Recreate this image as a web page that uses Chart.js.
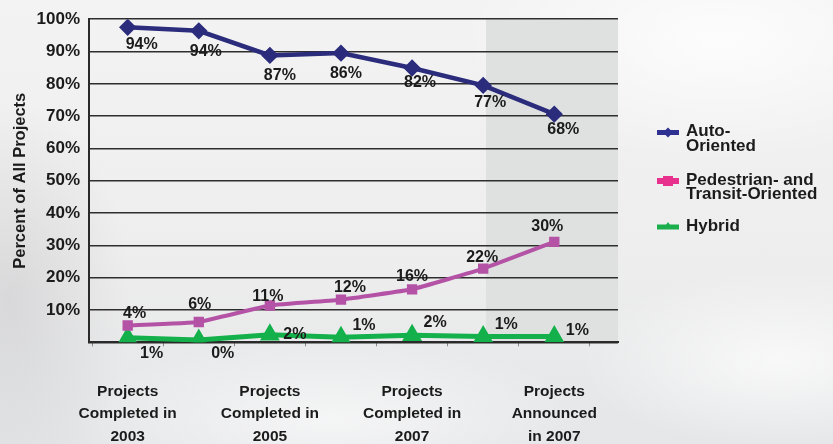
<!DOCTYPE html>
<html>
<head>
<meta charset="utf-8">
<script src="https://cdn.jsdelivr.net/npm/chart.js@4.4.1/dist/chart.umd.min.js"></script>
<style>
  html, body { margin: 0; padding: 0; }
  #wrap {
    position: relative;
    width: 833px;
    height: 444px;
    overflow: hidden;
    background:
      radial-gradient(ellipse 120px 200px at 10px 300px, rgba(200,200,202,0.55), rgba(200,200,202,0) 100%),
      radial-gradient(ellipse 260px 120px at 720px 40px, rgba(255,255,255,0.8), rgba(255,255,255,0) 100%),
      radial-gradient(ellipse 200px 90px at 780px 360px, rgba(255,255,255,0.7), rgba(255,255,255,0) 100%),
      radial-gradient(ellipse 260px 80px at 330px 420px, rgba(255,255,255,0.6), rgba(255,255,255,0) 100%),
      linear-gradient(180deg, #f3f3f3 0%, #eeeeee 55%, #e5e6e8 100%);
  }
  canvas { position: absolute; left: 0; top: 0; }
</style>
</head>
<body>
<div id="wrap"><canvas id="chart" width="833" height="444"></canvas></div>
<script>
// x positions 0..6 are the seven surveys; only every other one gets a label
const tickPositions = [0, 2, 4, 6];
const tickLabels = [
  ["Projects", "Completed in", "2003"],
  ["Projects", "Completed in", "2005"],
  ["Projects", "Completed in", "2007"],
  ["Projects", "Announced", "in 2007"],
];

// plotted positions
const autoValues = [97.5, 96.4, 88.8, 89.5, 84.9, 79.5, 70.6];
const pedValues = [5.2, 6.3, 11.4, 13.2, 16.4, 22.8, 31.1];
const hybridValues = [1.4, 0.7, 2.3, 1.6, 2.2, 1.8, 1.8];

// printed data labels
const autoLabels = ["94%", "94%", "87%", "86%", "82%", "77%", "68%"];
const pedLabels = ["4%", "6%", "11%", "12%", "16%", "22%", "30%"];
const hybridLabels = ["1%", "0%", "2%", "1%", "2%", "1%", "1%"];

const seriesNames = ["Auto-\nOriented", "Pedestrian- and\nTransit-Oriented", "Hybrid"];
const shadeFrom = 5.04;

const FONT = "'Liberation Sans', Arial, sans-serif";
const TEXT = "#1b1b1b";

// label offsets from the marker, px
const labelOffsets = [
  [[14, 17], [7, 21], [10, 20], [5, 20], [8, 15], [7, 17], [9, 15]],
  [[7, -12], [1, -17], [-2, -9], [9, -12], [0, -13], [-1, -11], [-7, -15]],
  [[24, 16], [24, 14], [25, 0], [23, -12], [23, -13], [23, -12], [23, -6]],
];
const seriesLabels = [autoLabels, pedLabels, hybridLabels];

const toPoints = (arr) => arr.map((v, i) => ({ x: i, y: v }));

const shadePlugin = {
  id: "shade",
  beforeDraw(chart) {
    const { ctx, chartArea, scales } = chart;
    const x0 = scales.x.getPixelForValue(shadeFrom);
    ctx.save();
    ctx.fillStyle = "#dfe1e1";
    ctx.fillRect(x0, chartArea.top, chartArea.right - x0, chartArea.bottom - chartArea.top);
    ctx.restore();
  },
};

const labelPlugin = {
  id: "pointLabels",
  afterDatasetsDraw(chart) {
    const ctx = chart.ctx;
    ctx.save();
    ctx.font = "bold 16px " + FONT;
    ctx.fillStyle = TEXT;
    ctx.textAlign = "center";
    ctx.textBaseline = "middle";
    chart.data.datasets.forEach((ds, d) => {
      chart.getDatasetMeta(d).data.forEach((pt, i) => {
        const off = labelOffsets[d][i];
        ctx.fillText(seriesLabels[d][i], pt.x + off[0], pt.y + off[1]);
      });
    });
    ctx.restore();
  },
};

const legendPlugin = {
  id: "sideLegend",
  afterDraw(chart) {
    const ctx = chart.ctx;
    const rows = [132.5, 181, 227];
    ctx.save();
    chart.data.datasets.forEach((ds, d) => {
      const y = rows[d];
      const color = ds.legendColor;
      ctx.strokeStyle = color;
      ctx.fillStyle = color;
      ctx.lineWidth = d === 1 ? 6 : 5;
      ctx.beginPath();
      ctx.moveTo(657, y);
      ctx.lineTo(679, y);
      ctx.stroke();
      ctx.beginPath();
      if (d === 0) {
        ctx.moveTo(668, y - 5); ctx.lineTo(673, y); ctx.lineTo(668, y + 5); ctx.lineTo(663, y);
      } else if (d === 1) {
        ctx.rect(663, y - 5, 10, 10);
      } else {
        ctx.moveTo(668, y - 5); ctx.lineTo(673, y + 2); ctx.lineTo(663, y + 2);
      }
      ctx.closePath();
      ctx.fill();
      ctx.font = "bold 17px " + FONT;
      ctx.fillStyle = TEXT;
      ctx.textAlign = "left";
      ctx.textBaseline = "middle";
      const lines = seriesNames[d].split("\n");
      lines.forEach((ln, k) => ctx.fillText(ln, 686, y - 1 + k * 14.5));
    });
    ctx.restore();
  },
};

new Chart(document.getElementById("chart"), {
  type: "line",
  data: {
    datasets: [
      {
        label: "Auto-Oriented",
        data: toPoints(autoValues),
        borderColor: "#2b2c7c",
        backgroundColor: "#2b2c7c",
        legendColor: "#2e3192",
        borderWidth: 4.5,
        pointStyle: "rectRot",
        pointRadius: 5.5,
        tension: 0,
      },
      {
        label: "Pedestrian- and Transit-Oriented",
        data: toPoints(pedValues),
        borderColor: "#b453a6",
        backgroundColor: "#b453a6",
        legendColor: "#e8318c",
        borderWidth: 4,
        pointStyle: "rect",
        pointRadius: 4.5,
        tension: 0.1,
      },
      {
        label: "Hybrid",
        data: toPoints(hybridValues),
        borderColor: "#14b04b",
        backgroundColor: "#14b04b",
        legendColor: "#1aae4d",
        borderWidth: 5,
        pointStyle: "triangle",
        pointRadius: 6.5,
        tension: 0,
      },
    ],
  },
  options: {
    responsive: false,
    animation: false,
    layout: { padding: { top: 16.7, right: 215, left: 0, bottom: 0 } },
    plugins: {
      legend: { display: false },
      tooltip: { enabled: false },
    },
    scales: {
      x: {
        type: "linear",
        min: -0.544,
        max: 6.896,
        afterBuildTicks(scale) {
          const vals = [-0.5, 0.5, 1.5, 2.5, 3.5, 4.5, 5.5, 6.5].concat(tickPositions);
          vals.sort((a, b) => a - b);
          scale.ticks = vals.map((v) => ({ value: v }));
        },
        afterFit(scale) { scale.height = 101.7; },
        border: { color: "#2a2a2a", width: 2 },
        grid: {
          drawOnChartArea: false,
          tickLength: 4,
          lineWidth: 1,
          color: (c) => (c.tick && Number.isInteger(c.tick.value) ? "rgba(0,0,0,0)" : "#888"),
        },
        ticks: {
          autoSkip: false,
          maxRotation: 0,
          padding: 34,
          color: TEXT,
          font: { family: FONT, size: 15.5, weight: "bold", lineHeight: 1.45 },
          callback: (v) => {
            const k = tickPositions.indexOf(v);
            return k >= 0 ? tickLabels[k] : "";
          },
        },
      },
      y: {
        min: 0,
        max: 100,
        afterFit(scale) { scale.width = 89; },
        border: { color: "#2a2a2a", width: 2 },
        grid: { color: "#2e2e2e", lineWidth: 1.6, drawTicks: false },
        title: {
          display: true,
          text: "Percent of All Projects",
          color: TEXT,
          padding: { top: 11, bottom: 0 },
          font: { family: FONT, size: 16.5, weight: "bold" },
        },
        ticks: {
          stepSize: 10,
          padding: 9,
          color: TEXT,
          font: { family: FONT, size: 17, weight: "bold" },
          callback: (v) => (v === 0 ? "" : v + "%"),
        },
      },
    },
  },
  plugins: [shadePlugin, labelPlugin, legendPlugin],
});
</script>
</body>
</html>
